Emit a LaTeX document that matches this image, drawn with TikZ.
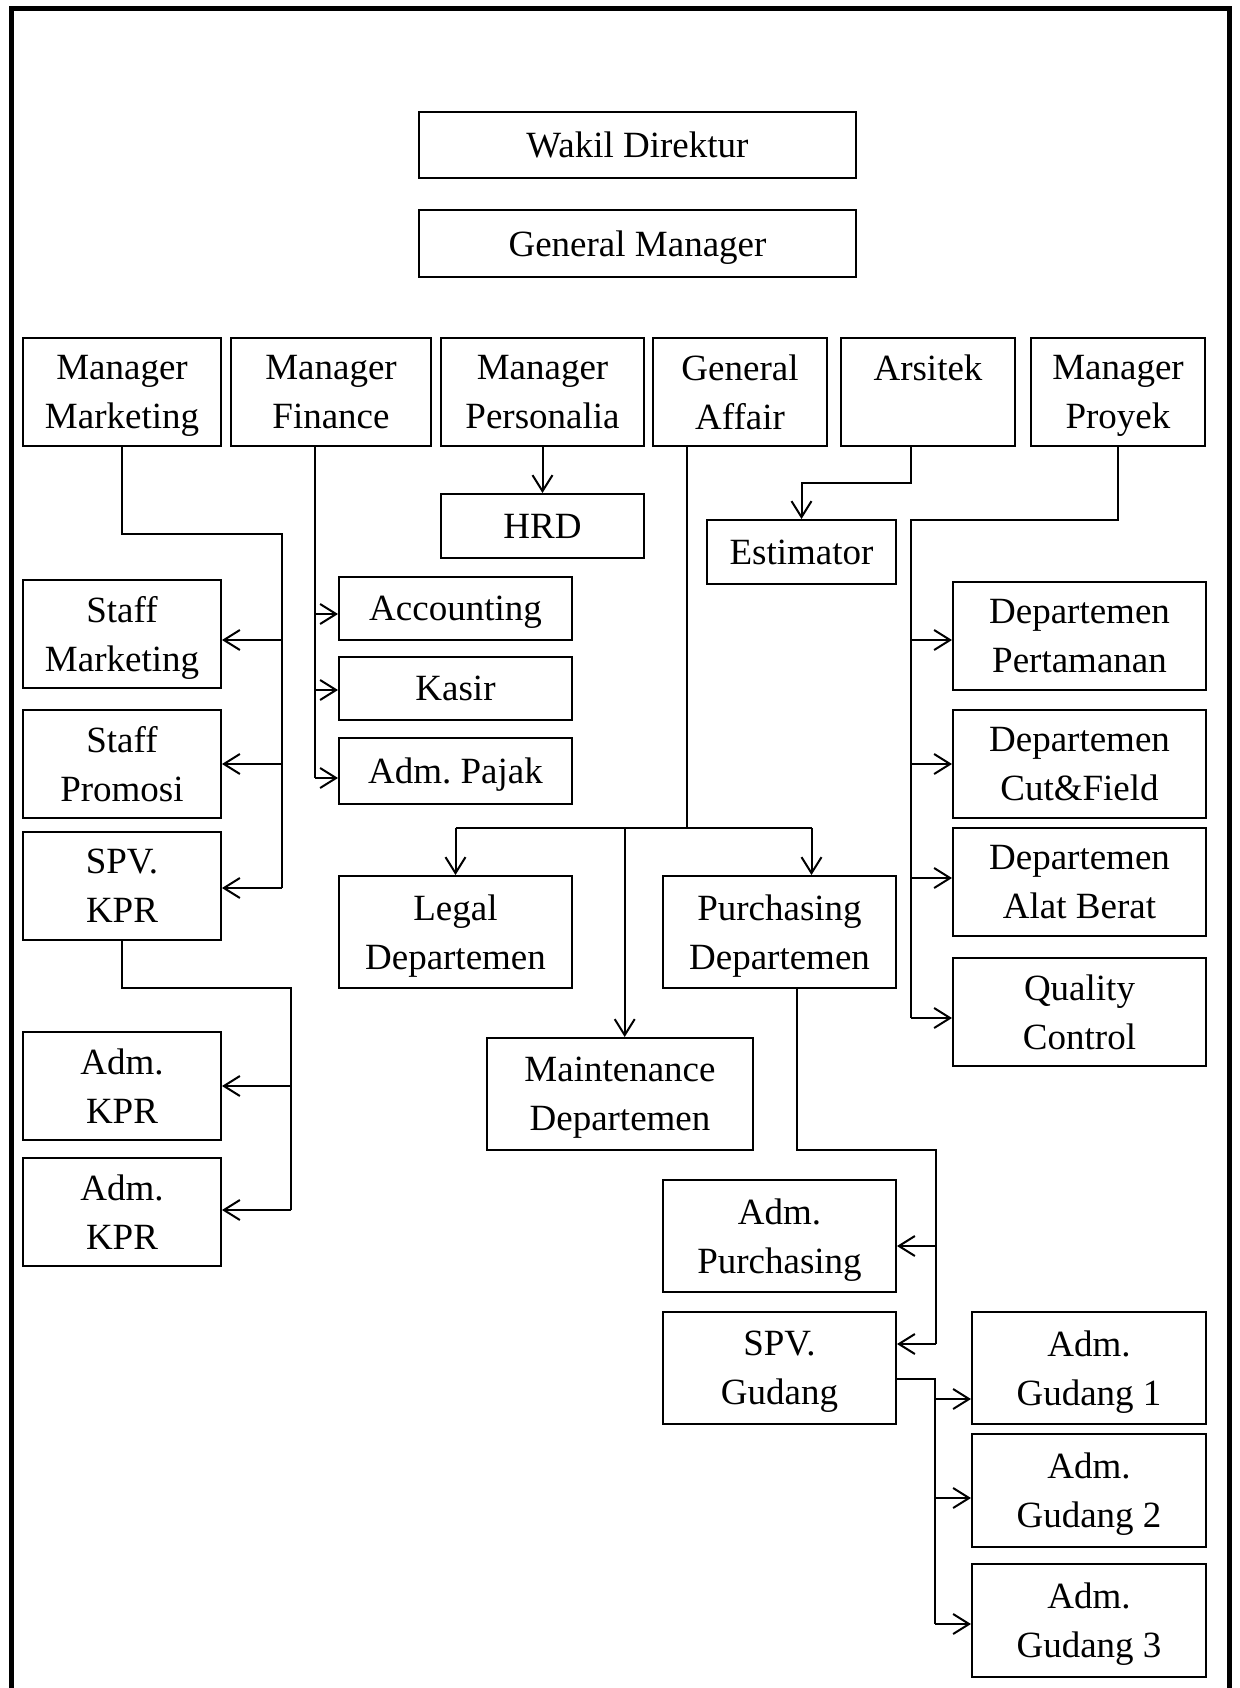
\documentclass[tikz,border=0pt]{standalone}
\usepackage{fontspec}
\setmainfont{Liberation Serif}
\usetikzlibrary{arrows.meta}
\tikzset{
 box/.style={draw, line width=1pt, inner sep=0pt, align=center, text depth=0pt, font=\fontsize{18.5pt}{24.5pt}\selectfont\frenchspacing},
 conn/.style={line width=1pt},
 arr/.style={conn, -{Straight Barb[length=8pt,width=10pt]}},
}
\begin{document}
\begin{tikzpicture}[x=0.5pt,y=-0.5pt]
\useasboundingbox (0,0) rectangle (1239,1688);
\draw[line width=2.5pt] (11,1688) -- (11,8) -- (1229,8) -- (1229,1688);

% top
\node[box, minimum width=218.5pt, minimum height=33pt] (wd) at (637.5,145) {Wakil Direktur};
\node[box, minimum width=218.5pt, minimum height=33.5pt] (gm) at (637.5,243.5) {General Manager};

% managers row
\node[box, minimum width=99pt, minimum height=54pt] (mm) at (122,392) {Manager\\Marketing};
\node[box, minimum width=100pt, minimum height=54pt] (mf) at (331,392) {Manager\\Finance};
\node[box, minimum width=101.5pt, minimum height=54pt] (mp) at (542.5,392) {Manager\\Personalia};
\node[box, minimum width=87pt, minimum height=54pt] (ga) at (740,392) {General\\Affair};
\node[box, minimum width=87pt, minimum height=54pt] (ar) at (928,392) {Arsitek\\\mbox{}};
\node[box, minimum width=87pt, minimum height=54pt] (mpr) at (1118,392) {Manager\\Proyek};

\node[box, minimum width=101.5pt, minimum height=32pt] (hrd) at (542.5,526) {HRD};
\node[box, minimum width=94.5pt, minimum height=32pt] (est) at (801.5,552) {Estimator};

\node[box, minimum width=116.5pt, minimum height=31.5pt] (acc) at (455.5,608.5) {Accounting};
\node[box, minimum width=116.5pt, minimum height=31.5pt] (kas) at (455.5,688.5) {Kasir};
\node[box, minimum width=116.5pt, minimum height=33pt] (pajak) at (455.5,771) {Adm. Pajak};

\node[box, minimum width=99pt, minimum height=54pt] (sm) at (122,634) {Staff\\Marketing};
\node[box, minimum width=99pt, minimum height=54pt] (sp) at (122,764) {Staff\\Promosi};
\node[box, minimum width=99pt, minimum height=54pt] (spv) at (122,886) {SPV.\\KPR};
\node[box, minimum width=99pt, minimum height=54pt] (kpr1) at (122,1086) {Adm.\\KPR};
\node[box, minimum width=99pt, minimum height=54pt] (kpr2) at (122,1212) {Adm.\\KPR};

\node[box, minimum width=116.5pt, minimum height=56pt] (legal) at (455.5,932) {Legal\\Departemen};
\node[box, minimum width=116.5pt, minimum height=56pt] (purch) at (779.5,932) {Purchasing\\Departemen};
\node[box, minimum width=133pt, minimum height=56pt] (maint) at (620,1094) {Maintenance\\Departemen};

\node[box, minimum width=126.5pt, minimum height=54pt] (dp1) at (1079.5,636) {Departemen\\Pertamanan};
\node[box, minimum width=126.5pt, minimum height=54pt] (dp2) at (1079.5,764) {Departemen\\Cut\&Field};
\node[box, minimum width=126.5pt, minimum height=54pt] (dp3) at (1079.5,882) {Departemen\\Alat Berat};
\node[box, minimum width=126.5pt, minimum height=54pt] (qc) at (1079.5,1012) {Quality\\Control};

\node[box, minimum width=116.5pt, minimum height=56pt] (admp) at (779.5,1236) {Adm.\\Purchasing};
\node[box, minimum width=116.5pt, minimum height=56pt] (spvg) at (779.5,1368) {SPV.\\Gudang};
\node[box, minimum width=117pt, minimum height=56pt] (g1) at (1089,1368) {Adm.\\Gudang 1};
\node[box, minimum width=117pt, minimum height=56.5pt] (g2) at (1089,1490.5) {Adm.\\Gudang 2};
\node[box, minimum width=117pt, minimum height=56.5pt] (g3) at (1089,1620.5) {Adm.\\Gudang 3};

% Personalia -> HRD
\draw[arr] (mp.south) -- (hrd.north);

% Arsitek -> Estimator
\coordinate (arK) at (911,483);
\draw[arr] (arK |- ar.south) -- (arK) -| (est.north);

% Manager Proyek
\coordinate (prK) at (911,520);
\coordinate (pr1) at (911,640);
\coordinate (pr2) at (911,764);
\coordinate (pr3) at (911,878);
\coordinate (pr4) at (911,1018);
\draw[conn] (mpr.south) |- (prK) -- (pr4);
\draw[arr] (pr1) -- (pr1 -| dp1.west);
\draw[arr] (pr2) -- (pr2 -| dp2.west);
\draw[arr] (pr3) -- (pr3 -| dp3.west);
\draw[arr] (pr4) -- (pr4 -| qc.west);

% Manager Marketing
\coordinate (mk0) at (281.5,534);
\coordinate (mk1) at (281.5,640);
\coordinate (mk2) at (281.5,764);
\coordinate (mk3) at (281.5,888);
\draw[conn] (mm.south) |- (mk0) -- (mk3);
\draw[arr] (mk1) -- (mk1 -| sm.east);
\draw[arr] (mk2) -- (mk2 -| sp.east);
\draw[arr] (mk3) -- (mk3 -| spv.east);

% SPV KPR
\coordinate (sk0) at (291,988);
\coordinate (sk1) at (291,1086);
\coordinate (sk2) at (291,1210);
\draw[conn] (spv.south) |- (sk0) -- (sk2);
\draw[arr] (sk1) -- (sk1 -| kpr1.east);
\draw[arr] (sk2) -- (sk2 -| kpr2.east);

% Manager Finance
\coordinate (fk1) at (315,614);
\coordinate (fk2) at (315,690);
\coordinate (fk3) at (315,778);
\draw[conn] (mf.south -| fk1) -- (fk3);
\draw[arr] (fk1) -- (fk1 -| acc.west);
\draw[arr] (fk2) -- (fk2 -| kas.west);
\draw[arr] (fk3) -- (fk3 -| pajak.west);

% General Affair
\coordinate (ga0) at (687,828);
\coordinate (gl) at (455.5,828);
\coordinate (gr) at (811.5,828);
\coordinate (gmt) at (624.7,828);
\draw[conn] (ga.south -| ga0) -- (ga0);
\draw[conn] (gl) -- (gr);
\draw[arr] (gl) -- (gl |- legal.north);
\draw[arr] (gr) -- (gr |- purch.north);
\draw[arr] (gmt) -- (gmt |- maint.north);

% Purchasing
\coordinate (pu0) at (797,1150);
\coordinate (pu1) at (936,1150);
\coordinate (pu2) at (936,1246);
\coordinate (pu3) at (936,1344);
\draw[conn] (purch.south -| pu0) -- (pu0) -- (pu1) -- (pu3);
\draw[arr] (pu2) -- (pu2 -| admp.east);
\draw[arr] (pu3) -- (pu3 -| spvg.east);

% SPV Gudang
\coordinate (sg0) at (935,1379);
\coordinate (sg1) at (935,1399);
\coordinate (sg2) at (935,1498);
\coordinate (sg3) at (935,1624);
\draw[conn] (sg0 -| spvg.east) -- (sg0) -- (sg3);
\draw[arr] (sg1) -- (sg1 -| g1.west);
\draw[arr] (sg2) -- (sg2 -| g2.west);
\draw[arr] (sg3) -- (sg3 -| g3.west);
\end{tikzpicture}
\end{document}
